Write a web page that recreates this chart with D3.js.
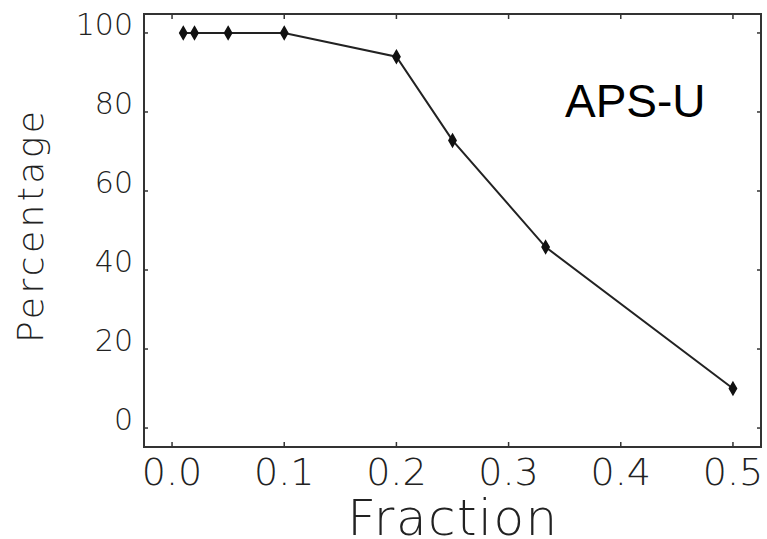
<!DOCTYPE html>
<html lang="en">
<head>
    <meta charset="UTF-8">
    <title>APS-U fraction</title>
    <script src="https://d3js.org/d3.v7.min.js"></script>
    <style>
        body { margin: 0; background: #fff; }
        .frame { fill: none; stroke: #333; stroke-width: 2; }
        .tick { stroke: #333; stroke-width: 1.5; }
        .lbl { font-family: "DejaVu Sans", sans-serif; font-weight: 200; fill: #222; }
        .curve { fill: none; stroke: #222; stroke-width: 2; }
        .pt { fill: #111; stroke: #111; stroke-width: 1.5; }
    </style>
</head>
<body>
<script>
    const width = 767;
    const height = 539;

    // data
    const fraction   = [0.01, 0.02, 0.05, 0.1, 0.2, 0.25, 0.333, 0.5];
    const percentage = [100, 100, 100, 100, 94, 72.8, 45.8, 10];
    const xTicks = [0, 0.1, 0.2, 0.3, 0.4, 0.5];
    const yTicks = [0, 20, 40, 60, 80, 100];

    const box = {left: 144, right: 761, top: 14, bottom: 447};

    const svg = d3.select("body").append("svg")
        .attr("width", width).attr("height", height);

    const x = d3.scaleLinear().domain([-0.025, 0.525]).range([box.left, box.right]);
    const y = d3.scaleLinear().domain([-4.8, 104.8]).range([box.bottom, box.top]);

    // frame
    svg.append("rect").attr("class", "frame")
        .attr("x", box.left).attr("y", box.top)
        .attr("width", box.right - box.left).attr("height", box.bottom - box.top);

    // x ticks, bottom and top
    xTicks.forEach(t => {
        svg.append("line").attr("class", "tick")
            .attr("x1", x(t)).attr("x2", x(t))
            .attr("y1", box.bottom).attr("y2", box.bottom - 5);
        svg.append("line").attr("class", "tick")
            .attr("x1", x(t)).attr("x2", x(t))
            .attr("y1", box.top).attr("y2", box.top + 5);
        svg.append("text").attr("class", "lbl")
            .attr("x", x(t)).attr("y", 485)
            .attr("text-anchor", "middle")
            .style("font-size", "38px")
            .text(d3.format(".1f")(t));
    });

    // y ticks, left and right
    yTicks.forEach(t => {
        svg.append("line").attr("class", "tick")
            .attr("x1", box.left).attr("x2", box.left + 4)
            .attr("y1", y(t)).attr("y2", y(t));
        svg.append("line").attr("class", "tick")
            .attr("x1", box.right).attr("x2", box.right - 4)
            .attr("y1", y(t)).attr("y2", y(t));
        svg.append("text").attr("class", "lbl")
            .attr("x", 133).attr("y", y(t) + 2)
            .attr("text-anchor", "end")
            .style("font-size", "30px")
            .text(t);
    });

    // axis titles
    svg.append("text").attr("class", "lbl")
        .attr("x", 453).attr("y", 535)
        .attr("text-anchor", "middle")
        .style("font-size", "50px")
        .style("letter-spacing", "1.5px")
        .text("Fraction");

    svg.append("text").attr("class", "lbl")
        .attr("transform", "translate(43,227) rotate(-90)")
        .attr("text-anchor", "middle")
        .attr("textLength", 232)
        .attr("lengthAdjust", "spacing")
        .style("font-size", "36px")
        .text("Percentage");

    // the curve
    const pts = fraction.map((f, i) => [f, percentage[i]]);
    const line = d3.line().x(d => x(d[0])).y(d => y(d[1]));

    svg.append("path").attr("class", "curve").attr("d", line(pts));

    svg.selectAll("path.pt")
        .data(pts)
        .enter()
        .append("path")
        .attr("class", "pt")
        .attr("d", d3.symbol(d3.symbolDiamond, 45))
        .attr("transform", d => `translate(${x(d[0])},${y(d[1])})`);

    svg.append("text")
        .attr("x", 565).attr("y", 117)
        .style("font-family", "'Liberation Sans', Arial, sans-serif")
        .style("font-size", "46px")
        .style("fill", "#000")
        .text("APS-U");
</script>
</body>
</html>
